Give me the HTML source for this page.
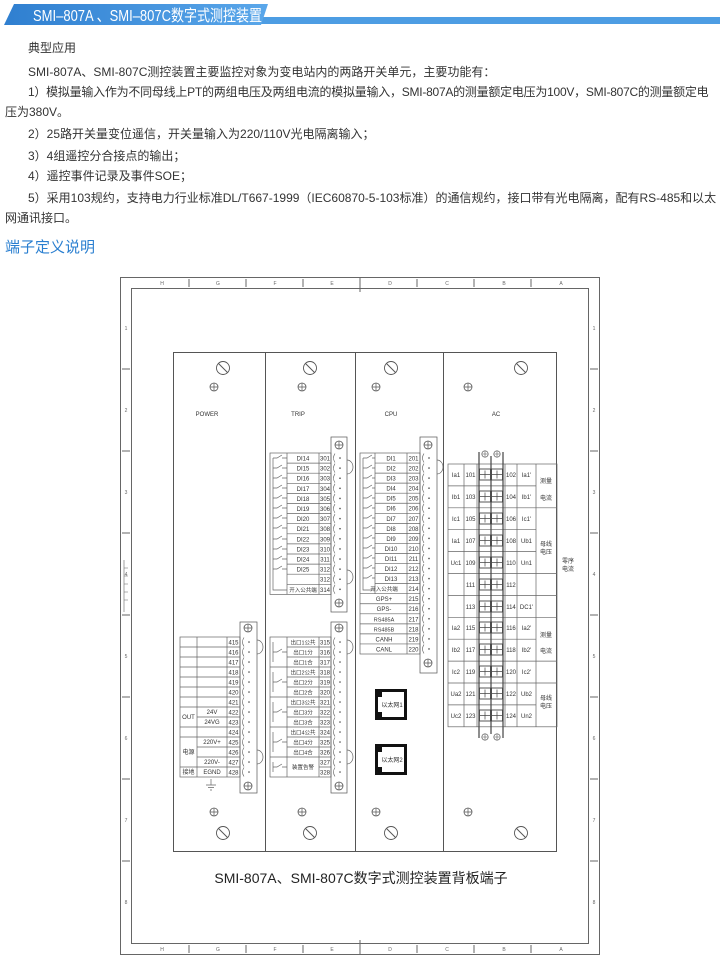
<!DOCTYPE html>
<html><head><meta charset="utf-8"><style>
body{margin:0;width:720px;height:960px;background:#fff;position:relative;overflow:hidden;font-family:"Liberation Sans","Noto Sans CJK SC",sans-serif;}
.t{position:absolute;font-size:12px;color:#333;white-space:nowrap;line-height:14px;}
svg{position:absolute;left:0;top:0}
</style></head><body>
<svg width="720" height="30">
<defs><linearGradient id="bg" x1="0" x2="1"><stop offset="0" stop-color="#2f7fd0"/><stop offset="1" stop-color="#5aa7ea"/></linearGradient></defs>
<rect x="258" y="17" width="462" height="7" fill="#4d9de3"/>
<polygon points="14,4 268,4 261,25 4,25" fill="url(#bg)"/>
<text x="33" y="21" font-family="Liberation Sans,Noto Sans CJK SC,sans-serif" font-size="16" fill="#fff" textLength="229" lengthAdjust="spacingAndGlyphs">SMI–807A 、SMI–807C数字式测控装置</text>
</svg>
<div class="t" style="left:28px;top:41px">典型应用</div>
<div class="t" style="left:28px;top:65px">SMI-807A、SMI-807C测控装置主要监控对象为变电站内的两路开关单元，主要功能有：</div>
<div class="t" style="left:28px;top:85px;letter-spacing:-0.25px">1）模拟量输入作为不同母线上PT的两组电压及两组电流的模拟量输入，SMI-807A的测量额定电压为100V，SMI-807C的测量额定电</div>
<div class="t" style="left:5px;top:105px">压为380V。</div>
<div class="t" style="left:28px;top:127px">2）25路开关量变位遥信，开关量输入为220/110V光电隔离输入；</div>
<div class="t" style="left:28px;top:149px">3）4组遥控分合接点的输出；</div>
<div class="t" style="left:28px;top:169px">4）遥控事件记录及事件SOE；</div>
<div class="t" style="left:28px;top:191px">5）采用103规约，支持电力行业标准DL/T667-1999（IEC60870-5-103标准）的通信规约，接口带有光电隔离，配有RS-485和以太</div>
<div class="t" style="left:5px;top:211px">网通讯接口。</div>
<div class="t" style="left:5px;top:239px;font-size:15px;color:#2a7fd0;line-height:18px">端子定义说明</div>

<svg width="720" height="960" style="pointer-events:none" font-family="Liberation Sans,Noto Sans CJK SC,sans-serif">
<defs>
<symbol id="cs" viewBox="-5 -5 10 10" overflow="visible"><circle r="4" fill="#fff" stroke="#555" stroke-width="0.8"/><path d="M-4,0H4M0,-4V4" stroke="#555" stroke-width="0.7"/></symbol>
<symbol id="ss" viewBox="-8 -8 16 16" overflow="visible"><circle r="6.5" fill="#fff" stroke="#555" stroke-width="0.9"/><path d="M-4.5,-4.5L4.5,4.5" stroke="#555" stroke-width="1"/></symbol>
<pattern id="p1" patternUnits="userSpaceOnUse" x="331" y="453" width="16" height="10.1"><path d="M4,0.5q-3,4.5 0,9" fill="none" stroke="#555" stroke-width="0.6"/><circle cx="9" cy="5" r="0.8" fill="#444"/></pattern>
<pattern id="p2" patternUnits="userSpaceOnUse" x="420" y="453" width="17" height="10.05"><path d="M4,0.5q-3,4.5 0,9" fill="none" stroke="#555" stroke-width="0.6"/><circle cx="9" cy="5" r="0.8" fill="#444"/></pattern>
<pattern id="p3" patternUnits="userSpaceOnUse" x="240" y="637" width="17" height="10"><path d="M4,0.5q-3,4.5 0,9" fill="none" stroke="#555" stroke-width="0.6"/><circle cx="9" cy="5" r="0.8" fill="#444"/></pattern>
<pattern id="p4" patternUnits="userSpaceOnUse" x="331" y="637" width="16" height="10"><path d="M4,0.5q-3,4.5 0,9" fill="none" stroke="#555" stroke-width="0.6"/><circle cx="9" cy="5" r="0.8" fill="#444"/></pattern>
</defs>
<g fill="none" stroke="#666" stroke-width="1">
<rect x="120.5" y="277.5" width="479" height="677"/>
<rect x="131.5" y="288.5" width="457" height="655"/>
<path d="M189,279V287M246,279V287M303,279V287M360,277V292M417,279V287M474,279V287M531,279V287"/>
<path d="M189,945V953M246,945V953M303,945V953M360,940V955M417,945V953M474,945V953M531,945V953"/>
<path d="M122,369H130M122,451H130M122,533H130M122,615H130M122,697H130M122,779H130M122,861H130"/>
<path d="M590,369H598M590,451H598M590,533H598M590,615H598M590,697H598M590,779H598M590,861H598"/>
<path d="M124,560V612M124,568H128M124,576H128M124,584H128M124,592H128M124,600H128" stroke-width="0.6"/>
</g>
<g font-size="5" fill="#666" text-anchor="middle">
<text x="162" y="285">H</text><text x="218" y="285">G</text><text x="275" y="285">F</text><text x="332" y="285">E</text><text x="390" y="285">D</text><text x="447" y="285">C</text><text x="504" y="285">B</text><text x="561" y="285">A</text>
<text x="162" y="951">H</text><text x="218" y="951">G</text><text x="275" y="951">F</text><text x="332" y="951">E</text><text x="390" y="951">D</text><text x="447" y="951">C</text><text x="504" y="951">B</text><text x="561" y="951">A</text>
<text x="126" y="330">1</text><text x="126" y="412">2</text><text x="126" y="494">3</text><text x="126" y="576">4</text><text x="126" y="658">5</text><text x="126" y="740">6</text><text x="126" y="822">7</text><text x="126" y="904">8</text>
<text x="594" y="330">1</text><text x="594" y="412">2</text><text x="594" y="494">3</text><text x="594" y="576">4</text><text x="594" y="658">5</text><text x="594" y="740">6</text><text x="594" y="822">7</text><text x="594" y="904">8</text>
</g>
<g fill="none" stroke="#555" stroke-width="1">
<rect x="173.5" y="352.5" width="383" height="499"/>
<path d="M265.5,352V852M355.5,352V852M443.5,352V852"/>
</g>
<use href="#ss" x="223" y="368" width="16" height="16" transform="translate(-8,-8)"/>
<use href="#ss" x="310" y="368" width="16" height="16" transform="translate(-8,-8)"/>
<use href="#ss" x="391" y="368" width="16" height="16" transform="translate(-8,-8)"/>
<use href="#ss" x="521" y="368" width="16" height="16" transform="translate(-8,-8)"/>
<use href="#ss" x="223" y="833" width="16" height="16" transform="translate(-8,-8)"/>
<use href="#ss" x="310" y="833" width="16" height="16" transform="translate(-8,-8)"/>
<use href="#ss" x="391" y="833" width="16" height="16" transform="translate(-8,-8)"/>
<use href="#ss" x="521" y="833" width="16" height="16" transform="translate(-8,-8)"/>
<g>
<use href="#cs" x="209" y="382" width="10" height="10"/><use href="#cs" x="297" y="382" width="10" height="10"/><use href="#cs" x="371" y="382" width="10" height="10"/><use href="#cs" x="463" y="382" width="10" height="10"/>
<use href="#cs" x="209" y="807" width="10" height="10"/><use href="#cs" x="297" y="807" width="10" height="10"/><use href="#cs" x="371" y="807" width="10" height="10"/><use href="#cs" x="463" y="807" width="10" height="10"/>
</g>
<g font-size="6" fill="#333" text-anchor="middle">
<text x="207" y="416">POWER</text><text x="298" y="416">TRIP</text><text x="391" y="416">CPU</text><text x="496" y="416">AC</text>
</g>
<text x="361" y="883" font-size="14" fill="#222" text-anchor="middle">SMI-807A、SMI-807C数字式测控装置背板端子</text>

<g fill="none" stroke="#666" stroke-width="0.7">
<rect x="270" y="453" width="61" height="141.4"/>
<path d="M287,453V594.4M319,453V594.4M273,458V590H287"/>
<path d="M287,463.1H331M287,473.2H331M287,483.3H331M287,493.4H331M287,503.5H331M287,513.6H331M287,523.7H331M287,533.8H331M287,543.9H331M287,554H331M287,564.1H331M287,574.2H331M287,584.3H331"/>
<path d="M273,458H277l5,-3M282,458H287M273,468H277l5,-3M282,468H287M273,478H277l5,-3M282,478H287M273,488H277l5,-3M282,488H287M273,498H277l5,-3M282,498H287M273,508H277l5,-3M282,508H287M273,518H277l5,-3M282,518H287M273,528H277l5,-3M282,528H287M273,539H277l5,-3M282,539H287M273,549H277l5,-3M282,549H287M273,559H277l5,-3M282,559H287M273,569H277l5,-3M282,569H287"/>
<rect x="331" y="437" width="16" height="175" stroke="#555"/>
<rect x="331" y="453" width="16" height="141.4" fill="url(#p1)" stroke="none"/>
<path d="M347,460a6,7 0 0 1 0,14M347,570a6,7 0 0 1 0,14"/>
</g>
<use href="#cs" x="334" y="440" width="10" height="10"/><use href="#cs" x="334" y="598" width="10" height="10"/>
<g font-size="6" fill="#333" text-anchor="middle">
<text x="303" y="460.5">DI14</text><text x="303" y="470.6">DI15</text><text x="303" y="480.7">DI16</text><text x="303" y="490.8">DI17</text><text x="303" y="500.9">DI18</text><text x="303" y="511">DI19</text><text x="303" y="521.1">DI20</text><text x="303" y="531.2">DI21</text><text x="303" y="541.3">DI22</text><text x="303" y="551.4">DI23</text><text x="303" y="561.5">DI24</text><text x="303" y="571.6">DI25</text><text x="303" y="591.8" font-size="5.5">开入公共端</text>
<text x="325" y="460.5">301</text><text x="325" y="470.6">302</text><text x="325" y="480.7">303</text><text x="325" y="490.8">304</text><text x="325" y="500.9">305</text><text x="325" y="511">306</text><text x="325" y="521.1">307</text><text x="325" y="531.2">308</text><text x="325" y="541.3">309</text><text x="325" y="551.4">310</text><text x="325" y="561.5">311</text><text x="325" y="571.6">312</text><text x="325" y="581.7">312</text><text x="325" y="591.8">314</text>
</g>

<g fill="none" stroke="#666" stroke-width="0.7">
<rect x="360" y="453" width="60" height="201"/>
<path d="M375,453V593.7M407,453V654M363,458V590H375"/>
<path d="M375,463.05H420M375,473.1H420M375,483.15H420M375,493.2H420M375,503.25H420M375,513.3H420M375,523.35H420M375,533.4H420M375,543.45H420M375,553.5H420M375,563.55H420M375,573.6H420M375,583.65H420M360,593.7H420M360,603.75H420M360,613.8H420M360,623.85H420M360,633.9H420M360,643.95H420"/>
<path d="M363,458H367l5,-3M372,458H375M363,468H367l5,-3M372,468H375M363,478H367l5,-3M372,478H375M363,488H367l5,-3M372,488H375M363,498H367l5,-3M372,498H375M363,508H367l5,-3M372,508H375M363,518H367l5,-3M372,518H375M363,528H367l5,-3M372,528H375M363,538H367l5,-3M372,538H375M363,548H367l5,-3M372,548H375M363,558H367l5,-3M372,558H375M363,568H367l5,-3M372,568H375M363,578H367l5,-3M372,578H375"/>
<rect x="420" y="437" width="17" height="236" stroke="#555"/>
<rect x="420" y="453" width="17" height="201" fill="url(#p2)" stroke="none"/>
<path d="M437,460a6,7 0 0 1 0,14"/>
</g>
<use href="#cs" x="423" y="440" width="10" height="10"/><use href="#cs" x="423" y="658" width="10" height="10"/>
<g font-size="6" fill="#333" text-anchor="middle">
<text x="391" y="460.5">DI1</text><text x="391" y="470.5">DI2</text><text x="391" y="480.6">DI3</text><text x="391" y="490.6">DI4</text><text x="391" y="500.7">DI5</text><text x="391" y="510.7">DI6</text><text x="391" y="520.8">DI7</text><text x="391" y="530.8">DI8</text><text x="391" y="540.9">DI9</text><text x="391" y="550.9">DI10</text><text x="391" y="561">DI11</text><text x="391" y="571">DI12</text><text x="391" y="581.1">DI13</text>
<text x="384" y="591.1" font-size="5.5">开入公共端</text><text x="384" y="601.2">GPS+</text><text x="384" y="611.2">GPS-</text><text x="384" y="621.3" font-size="5.5">RS485A</text><text x="384" y="631.3" font-size="5.5">RS485B</text><text x="384" y="641.4">CANH</text><text x="384" y="651.4">CANL</text>
<text x="413.5" y="460.5">201</text><text x="413.5" y="470.5">202</text><text x="413.5" y="480.6">203</text><text x="413.5" y="490.6">204</text><text x="413.5" y="500.7">205</text><text x="413.5" y="510.7">206</text><text x="413.5" y="520.8">207</text><text x="413.5" y="530.8">208</text><text x="413.5" y="540.9">209</text><text x="413.5" y="550.9">210</text><text x="413.5" y="561">211</text><text x="413.5" y="571">212</text><text x="413.5" y="581.1">213</text><text x="413.5" y="591.1">214</text><text x="413.5" y="601.2">215</text><text x="413.5" y="611.2">216</text><text x="413.5" y="621.3">217</text><text x="413.5" y="631.3">218</text><text x="413.5" y="641.4">219</text><text x="413.5" y="651.4">220</text>
</g>

<g fill="none" stroke="#666" stroke-width="0.7">
<rect x="180" y="637" width="60" height="140"/>
<path d="M197,637V777M227,637V777"/>
<path d="M180,647H240M180,657H240M180,667H240M180,677H240M180,687H240M180,697H240M180,707H240M197,717H240M180,727H240M180,737H240M197,747H240M197,757H240M180,767H240"/>
<rect x="240" y="622" width="17" height="171" stroke="#555"/>
<rect x="240" y="637" width="17" height="140" fill="url(#p3)" stroke="none"/>
<path d="M257,640a6,7 0 0 1 0,14M257,750a6,7 0 0 1 0,14"/>
<path d="M211,779V785M206,785H216M208,787.5H214M210,790H212"/>
</g>
<use href="#cs" x="243" y="623" width="10" height="10"/><use href="#cs" x="243" y="781" width="10" height="10"/>
<g font-size="6" fill="#333" text-anchor="middle">
<text x="188.5" y="719">OUT</text><text x="212" y="714">24V</text><text x="212" y="724">24VG</text>
<text x="188.5" y="754">电源</text><text x="212" y="744">220V+</text><text x="212" y="764">220V-</text>
<text x="188.5" y="774">接地</text><text x="212" y="774">EGND</text>
<text x="233.5" y="644.5">415</text><text x="233.5" y="654.5">416</text><text x="233.5" y="664.5">417</text><text x="233.5" y="674.5">418</text><text x="233.5" y="684.5">419</text><text x="233.5" y="694.5">420</text><text x="233.5" y="704.5">421</text><text x="233.5" y="714.5">422</text><text x="233.5" y="724.5">423</text><text x="233.5" y="734.5">424</text><text x="233.5" y="744.5">425</text><text x="233.5" y="754.5">426</text><text x="233.5" y="764.5">427</text><text x="233.5" y="774.5">428</text>
</g>

<g fill="none" stroke="#666" stroke-width="0.7">
<rect x="270" y="637" width="61" height="140"/>
<path d="M287,637V777M319,637V777"/>
<path d="M287,647H331M287,657H331M270,667H331M287,677H331M287,687H331M270,697H331M287,707H331M287,717H331M270,727H331M287,737H331M287,747H331M270,757H331M319,767H331"/>
<path d="M273,642V662M273,672V692M273,702V722M273,732V752M273,762V772"/>
<path d="M273,652H277l5,-3M282,652H287M273,682H277l5,-3M282,682H287M273,712H277l5,-3M282,712H287M273,742H277l5,-3M282,742H287M273,767H277l5,-3M282,767H287"/>
<rect x="331" y="622" width="16" height="171" stroke="#555"/>
<rect x="331" y="637" width="16" height="140" fill="url(#p4)" stroke="none"/>
<path d="M347,640a6,7 0 0 1 0,14M347,750a6,7 0 0 1 0,14"/>
</g>
<use href="#cs" x="334" y="623" width="10" height="10"/><use href="#cs" x="334" y="781" width="10" height="10"/>
<g font-size="5.5" fill="#333" text-anchor="middle">
<text x="303" y="644.5">出口1公共</text><text x="303" y="654.5">出口1分</text><text x="303" y="664.5">出口1合</text>
<text x="303" y="674.5">出口2公共</text><text x="303" y="684.5">出口2分</text><text x="303" y="694.5">出口2合</text>
<text x="303" y="704.5">出口3公共</text><text x="303" y="714.5">出口3分</text><text x="303" y="724.5">出口3合</text>
<text x="303" y="734.5">出口4公共</text><text x="303" y="744.5">出口4分</text><text x="303" y="754.5">出口4合</text>
<text x="303" y="769">装置告警</text>
</g>
<g font-size="6" fill="#333" text-anchor="middle">
<text x="325" y="644.5">315</text><text x="325" y="654.5">316</text><text x="325" y="664.5">317</text><text x="325" y="674.5">318</text><text x="325" y="684.5">319</text><text x="325" y="694.5">320</text><text x="325" y="704.5">321</text><text x="325" y="714.5">322</text><text x="325" y="724.5">323</text><text x="325" y="734.5">324</text><text x="325" y="744.5">325</text><text x="325" y="754.5">326</text><text x="325" y="764.5">327</text><text x="325" y="774.5">328</text>
</g>

<g fill="none" stroke="#111" stroke-width="3">
<rect x="376.5" y="690.5" width="29" height="28"/>
<rect x="376.5" y="745.5" width="29" height="28"/>
</g>
<g fill="#111"><rect x="378" y="692" width="4" height="5"/><rect x="378" y="712" width="4" height="5"/><rect x="378" y="747" width="4" height="5"/><rect x="378" y="767" width="4" height="5"/></g>
<g font-size="6" fill="#333" text-anchor="middle"><text x="392" y="707">以太网1</text><text x="392" y="762">以太网2</text></g>

<g fill="none" stroke="#666" stroke-width="0.7">
<rect x="448" y="464" width="109" height="262.8"/>
<path d="M464,464V726.8M477,464V726.8M505,464V726.8M517,464V726.8M536,464V726.8"/>
<path d="M448,485.9H536M448,507.8H557M448,529.7H536M448,551.6H536M448,573.5H557M448,595.4H557M448,617.3H557M448,639.2H536M448,661.1H557M448,683H557M448,704.9H536"/>
</g>
<g fill="none" stroke="#444">
<path d="M479,452V738M503,452V738M491,456V734" stroke-width="1.2"/>
</g>
<g>
<use href="#cs" x="481" y="450" width="8" height="8"/><use href="#cs" x="493" y="450" width="8" height="8"/>
<use href="#cs" x="481" y="733" width="8" height="8"/><use href="#cs" x="493" y="733" width="8" height="8"/>
</g>
<g fill="#fff" stroke="#444" stroke-width="0.9">
<rect x="479.5" y="469" width="11" height="11"/><rect x="491.5" y="469" width="11" height="11"/>
<rect x="479.5" y="491" width="11" height="11"/><rect x="491.5" y="491" width="11" height="11"/>
<rect x="479.5" y="513" width="11" height="11"/><rect x="491.5" y="513" width="11" height="11"/>
<rect x="479.5" y="535" width="11" height="11"/><rect x="491.5" y="535" width="11" height="11"/>
<rect x="479.5" y="557" width="11" height="11"/><rect x="491.5" y="557" width="11" height="11"/>
<rect x="479.5" y="579" width="11" height="11"/><rect x="491.5" y="579" width="11" height="11"/>
<rect x="479.5" y="601" width="11" height="11"/><rect x="491.5" y="601" width="11" height="11"/>
<rect x="479.5" y="622" width="11" height="11"/><rect x="491.5" y="622" width="11" height="11"/>
<rect x="479.5" y="644" width="11" height="11"/><rect x="491.5" y="644" width="11" height="11"/>
<rect x="479.5" y="666" width="11" height="11"/><rect x="491.5" y="666" width="11" height="11"/>
<rect x="479.5" y="688" width="11" height="11"/><rect x="491.5" y="688" width="11" height="11"/>
<rect x="479.5" y="710" width="11" height="11"/><rect x="491.5" y="710" width="11" height="11"/>
</g>
<g stroke="#444" stroke-width="0.7" fill="none">
<path d="M485,470.5V478.5M480,474.5H490M497,470.5V478.5M492,474.5H502"/>
<path d="M485,492.5V500.5M480,496.5H490M497,492.5V500.5M492,496.5H502"/>
<path d="M485,514.5V522.5M480,518.5H490M497,514.5V522.5M492,518.5H502"/>
<path d="M485,536.5V544.5M480,540.5H490M497,536.5V544.5M492,540.5H502"/>
<path d="M485,558.5V566.5M480,562.5H490M497,558.5V566.5M492,562.5H502"/>
<path d="M485,580.5V588.5M480,584.5H490M497,580.5V588.5M492,584.5H502"/>
<path d="M485,602.5V610.5M480,606.5H490M497,602.5V610.5M492,606.5H502"/>
<path d="M485,623.5V631.5M480,627.5H490M497,623.5V631.5M492,627.5H502"/>
<path d="M485,645.5V653.5M480,649.5H490M497,645.5V653.5M492,649.5H502"/>
<path d="M485,667.5V675.5M480,671.5H490M497,667.5V675.5M492,671.5H502"/>
<path d="M485,689.5V697.5M480,693.5H490M497,689.5V697.5M492,693.5H502"/>
<path d="M485,711.5V719.5M480,715.5H490M497,711.5V719.5M492,715.5H502"/>
</g>
<g font-size="6" fill="#333" text-anchor="middle">
<text x="456" y="477">Ia1</text><text x="456" y="499">Ib1</text><text x="456" y="521">Ic1</text><text x="456" y="543">Ia1</text><text x="456" y="565">Uc1</text><text x="456" y="630">Ia2</text><text x="456" y="652">Ib2</text><text x="456" y="674">Ic2</text><text x="456" y="696">Ua2</text><text x="456" y="718">Uc2</text>
<text x="470.5" y="477">101</text><text x="470.5" y="499">103</text><text x="470.5" y="521">105</text><text x="470.5" y="543">107</text><text x="470.5" y="565">109</text><text x="470.5" y="587">111</text><text x="470.5" y="609">113</text><text x="470.5" y="630">115</text><text x="470.5" y="652">117</text><text x="470.5" y="674">119</text><text x="470.5" y="696">121</text><text x="470.5" y="718">123</text>
<text x="511" y="477">102</text><text x="511" y="499">104</text><text x="511" y="521">106</text><text x="511" y="543">108</text><text x="511" y="565">110</text><text x="511" y="587">112</text><text x="511" y="609">114</text><text x="511" y="630">116</text><text x="511" y="652">118</text><text x="511" y="674">120</text><text x="511" y="696">122</text><text x="511" y="718">124</text>
<text x="526.5" y="477">Ia1'</text><text x="526.5" y="499">Ib1'</text><text x="526.5" y="521">Ic1'</text><text x="526.5" y="543">Ub1</text><text x="526.5" y="565">Un1</text><text x="526.5" y="609">DC1'</text><text x="526.5" y="630">Ia2'</text><text x="526.5" y="652">Ib2'</text><text x="526.5" y="674">Ic2'</text><text x="526.5" y="696">Ub2</text><text x="526.5" y="718">Un2</text>
<text x="546" y="483">测量</text><text x="546" y="500">电流</text>
<text x="546" y="546">母线</text><text x="546" y="554">电压</text>
<text x="546" y="637">测量</text><text x="546" y="653">电流</text>
<text x="546" y="700">母线</text><text x="546" y="708">电压</text>
<text x="568" y="563">零序</text><text x="568" y="571">电流</text>
</g>
</svg>
</body></html>
